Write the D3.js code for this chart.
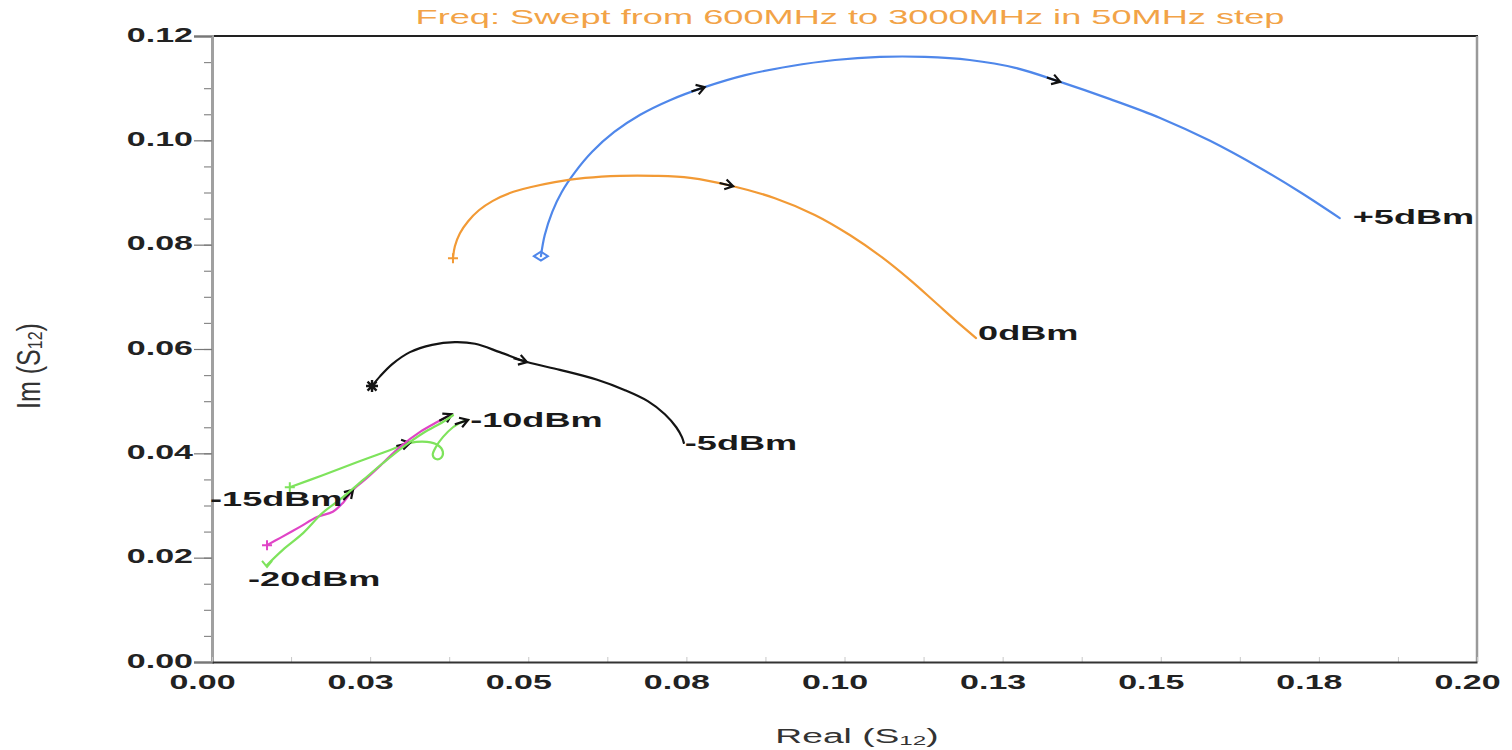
<!DOCTYPE html>
<html>
<head>
<meta charset="utf-8">
<script src="https://cdn.jsdelivr.net/npm/d3@7"></script>
<style>
  body { margin: 0; background: #fff; }
  text { font-family: "Liberation Sans", Arial, sans-serif; }
</style>
</head>
<body>
<svg id="chart" width="1512" height="750"></svg>
<script>
// S12 traces (real vs imaginary), each swept 600 MHz -> 3000 MHz
const realP5  = [0.0520,0.0526,0.0538,0.0553,0.0574,0.0601,0.0636,0.0677,0.0724,0.0779,0.0843,0.0914,0.0985,0.1056,0.1127,0.1198,0.1270,0.1341,0.1420,0.1499,0.1578,0.1657,0.1720,0.1783];
const imagP5  = [0.0778,0.0818,0.0863,0.0901,0.0939,0.0978,0.1016,0.1049,0.1077,0.1102,0.1125,0.1142,0.1154,0.1160,0.1160,0.1154,0.1139,0.1112,0.1079,0.1043,0.0999,0.0947,0.0901,0.0851];
const arrowsP5 = [9, 17];

const real0   = [0.0381,0.0384,0.0392,0.0405,0.0422,0.0444,0.0471,0.0503,0.0542,0.0590,0.0645,0.0700,0.0756,0.0824,0.0890,0.0953,0.1009,0.1059,0.1104,0.1143,0.1178,0.1208];
const imag0   = [0.0774,0.0797,0.0822,0.0845,0.0866,0.0884,0.0899,0.0910,0.0920,0.0928,0.0932,0.0932,0.0928,0.0912,0.0889,0.0857,0.0818,0.0776,0.0732,0.0690,0.0652,0.0621];
const arrows0 = [13];

const realM5  = [0.0253,0.0266,0.0285,0.0313,0.0348,0.0384,0.0416,0.0455,0.0498,0.0550,0.0609,0.0653,0.0689,0.0716,0.0734,0.0743,0.0746];
const imagM5  = [0.0529,0.0548,0.0571,0.0594,0.0608,0.0613,0.0610,0.0594,0.0575,0.0560,0.0541,0.0521,0.0500,0.0475,0.0450,0.0431,0.0420];
const arrowsM5 = [8];

const realM10 = [0.0123,0.0175,0.0229,0.0281,0.0313,0.0340,0.0357,0.0365,0.0362,0.0354,0.0349,0.0354,0.0365,0.0381,0.0395,0.0405];
const imagM10 = [0.0335,0.0358,0.0383,0.0406,0.0420,0.0422,0.0416,0.0403,0.0391,0.0389,0.0397,0.0412,0.0431,0.0450,0.0460,0.0464];
const arrowsM10 = [4, 15];

const realM15 = [0.0087,0.0108,0.0139,0.0166,0.0191,0.0207,0.0223,0.0245,0.0270,0.0297,0.0329,0.0356,0.0379];
const imagM15 = [0.0224,0.0238,0.0259,0.0278,0.0288,0.0305,0.0330,0.0353,0.0381,0.0412,0.0441,0.0460,0.0475];
const arrowsM15 = [6, 12];

const realM20 = [0.0087,0.0112,0.0144,0.0175,0.0207,0.0239,0.0270,0.0302,0.0334,0.0365,0.0381];
const imagM20 = [0.0186,0.0215,0.0247,0.0286,0.0316,0.0349,0.0381,0.0412,0.0439,0.0460,0.0473];
const arrowsM20 = [];

const xTickValues = [0, 0.025, 0.05, 0.075, 0.10, 0.125, 0.15, 0.175, 0.20];
const xTickLabels = ["0.00","0.03","0.05","0.08","0.10","0.13","0.15","0.18","0.20"];
const yTickValues = [0, 0.02, 0.04, 0.06, 0.08, 0.10, 0.12];
const yTickLabels = ["0.00","0.02","0.04","0.06","0.08","0.10","0.12"];

const titleText = "Freq: Swept from 600MHz to 3000MHz in 50MHz step";

// ---- layout ----
const plot = { left: 212, right: 1477, top: 36, bottom: 662 };
const SX = 1.7;   // horizontal widening applied to the lettering

const svg = d3.select("#chart");
const x = d3.scaleLinear().domain([0, 0.20]).range([plot.left, plot.right]);
const y = d3.scaleLinear().domain([0, 0.12]).range([plot.bottom, plot.top]);

function wideText(g, px, py, str, o = {}) {
  return g.append("text")
    .attr("transform", `translate(${px},${py}) scale(${o.sx || SX},1)`)
    .attr("text-anchor", o.anchor || "start")
    .attr("dominant-baseline", o.baseline || "middle")
    .attr("font-size", o.size || 21)
    .attr("font-weight", o.weight || "bold")
    .attr("fill", o.fill || "#1a1a1a")
    .text(str);
}

// ---- frame ----
svg.append("line").attr("x1", plot.left).attr("x2", plot.right + 1)
  .attr("y1", plot.top).attr("y2", plot.top).attr("stroke", "#222").attr("stroke-width", 2);
svg.append("line").attr("x1", plot.right).attr("x2", plot.right)
  .attr("y1", plot.top).attr("y2", plot.bottom).attr("stroke", "#9a9a9a").attr("stroke-width", 2.5);

// ---- y axis ----
const yMinor = d3.axisLeft(y).tickValues(d3.range(0, 0.1201, 0.005)).tickSize(8).tickFormat("");
const gyMinor = svg.append("g").attr("transform", `translate(${plot.left},0)`).call(yMinor);
gyMinor.select(".domain").remove();
gyMinor.selectAll("line").attr("stroke", "#8a8a8a").attr("stroke-width", 1.2);

const yAxis = d3.axisLeft(y).tickValues(yTickValues).tickSize(18)
  .tickFormat((d, i) => yTickLabels[i]);
const gy = svg.append("g").attr("transform", `translate(${plot.left},0)`).call(yAxis);
gy.select(".domain").attr("stroke", "#a0a0a0").attr("stroke-width", 3);
gy.selectAll(".tick line").attr("stroke", "#777").attr("stroke-width", 1.2);
gy.selectAll(".tick text")
  .attr("x", null).attr("dy", null)
  .attr("transform", `translate(-19,0) scale(${SX},1)`)
  .attr("dominant-baseline", "middle")
  .attr("font-size", 20).attr("font-weight", "bold").attr("fill", "#222")
  .attr("font-family", "Liberation Sans, Arial, sans-serif");

// ---- x axis ----
const xMinor = d3.axisBottom(x).tickValues(d3.range(0, 0.2001, 0.0125)).tickSizeInner(-5).tickSizeOuter(0).tickFormat("");
const gxMinor = svg.append("g").attr("transform", `translate(0,${plot.bottom})`).call(xMinor);
gxMinor.select(".domain").remove();
gxMinor.selectAll("line").attr("stroke", "#c8c8c8").attr("stroke-width", 1);

const xAxis = d3.axisBottom(x).tickValues(xTickValues).tickSize(0)
  .tickFormat((d, i) => xTickLabels[i]);
const gx = svg.append("g").attr("transform", `translate(0,${plot.bottom})`).call(xAxis);
gx.select(".domain").attr("stroke", "#333").attr("stroke-width", 2);
gx.selectAll(".tick text")
  .attr("y", null).attr("dy", null)
  .attr("transform", `translate(-10,22) scale(${SX},1)`)
  .attr("dominant-baseline", "middle")
  .attr("font-size", 20).attr("font-weight", "bold").attr("fill", "#222")
  .attr("font-family", "Liberation Sans, Arial, sans-serif");

// ---- titles ----
wideText(svg, 850, 19, titleText, { anchor: "middle", size: 20, weight: "normal", fill: "#F2A347", sx: 1.81 });

const xt = wideText(svg, 857, 738, "Real (S", { anchor: "middle", size: 20, weight: "normal", fill: "#333", sx: 1.86 });
xt.append("tspan").attr("font-size", 13).attr("dy", 4).text("12");
xt.append("tspan").attr("dy", -4).text(")");

const yt = svg.append("text")
  .attr("transform", "translate(31,366) rotate(-90) scale(1,1.3)")
  .attr("text-anchor", "middle").attr("dominant-baseline", "middle")
  .attr("font-size", 25).attr("fill", "#333")
  .text("Im (S");
yt.append("tspan").attr("font-size", 16).attr("dy", 4).text("12");
yt.append("tspan").attr("dy", -4).text(")");

// ---- traces ----
const series = [
  { name: "+5dBm",  re: realP5,  im: imagP5,  arrows: arrowsP5,  color: "#4F87EA", marker: "diamond", label: { at: "end",   dx: 13,  dy: 0 } },
  { name: "0dBm",   re: real0,   im: imag0,   arrows: arrows0,   color: "#F29A35", marker: "plus",    label: { at: "end",   dx: 2,   dy: -4 } },
  { name: "-5dBm",  re: realM5,  im: imagM5,  arrows: arrowsM5,  color: "#141414", marker: "star",    label: { at: "end",   dx: 1,   dy: 2 } },
  { name: "-10dBm", re: realM10, im: imagM10, arrows: arrowsM10, color: "#7EE35C", marker: "plus",    label: { at: "end",   dx: 2,   dy: 2 } },
  { name: "-15dBm", re: realM15, im: imagM15, arrows: arrowsM15, color: "#E044C6", marker: "plus",    label: { at: "start", dx: -57, dy: -45 } },
  { name: "-20dBm", re: realM20, im: imagM20, arrows: arrowsM20, color: "#7EE35C", marker: "vee",     label: { at: "start", dx: -19, dy: 15 } }
];

const line = d3.line().x(d => x(d[0])).y(d => y(d[1])).curve(d3.curveCatmullRom.alpha(0.5));
const gTraces = svg.append("g");

series.forEach(s => {
  const pts = s.re.map((r, i) => [r, s.im[i]]);
  gTraces.append("path").attr("d", line(pts))
    .attr("fill", "none").attr("stroke", s.color).attr("stroke-width", 2.2)
    .attr("stroke-linejoin", "round").attr("stroke-linecap", "round");

  // start marker
  const p0 = pts[0];
  const mg = gTraces.append("g").attr("transform", `translate(${x(p0[0])},${y(p0[1])})`)
    .attr("fill", "none").attr("stroke", s.color).attr("stroke-width", 2);
  if (s.marker === "diamond") {
    mg.append("path").attr("d", "M-7,0 L0,-4.5 L7,0 L0,4.5 Z");
  } else if (s.marker === "plus") {
    mg.append("path").attr("d", "M-5,0 H5 M0,-5 V5");
  } else if (s.marker === "star") {
    mg.attr("stroke-width", 2.4);
    mg.append("path").attr("d", "M-6,0 H6 M0,-6 V6 M-4.5,-4.5 L4.5,4.5 M-4.5,4.5 L4.5,-4.5");
  } else if (s.marker === "vee") {
    mg.append("path").attr("d", "M-5,-4 L0,2 L5,-4");
  }

  // sweep-direction arrows
  s.arrows.forEach(i => {
    const a = pts[Math.max(0, i - 1)], b = pts[Math.min(pts.length - 1, i + 1)];
    const ang = Math.atan2(y(b[1]) - y(a[1]), x(b[0]) - x(a[0])) * 180 / Math.PI;
    gTraces.append("path")
      .attr("transform", `translate(${x(pts[i][0])},${y(pts[i][1])}) rotate(${ang})`)
      .attr("d", "M-14,0 L0,0 M-8,-5 L0,0 L-8,5")
      .attr("fill", "none").attr("stroke", "#111").attr("stroke-width", 2.2);
  });

  // trace label
  const lp = s.label.at === "end" ? pts[pts.length - 1] : pts[0];
  wideText(svg, x(lp[0]) + s.label.dx, y(lp[1]) + s.label.dy, s.name, { size: 21, sx: 1.72 });
});
</script>
</body>
</html>
